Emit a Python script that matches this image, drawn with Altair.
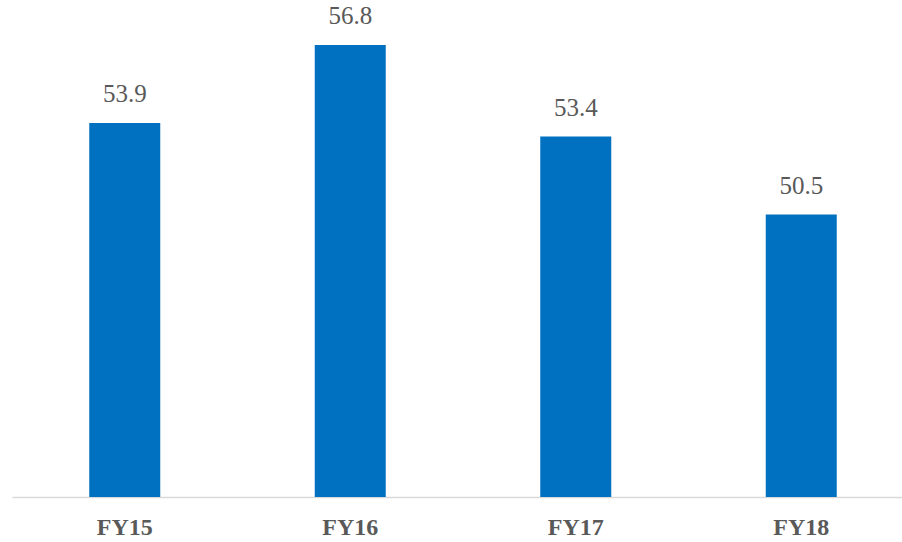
import altair as alt
import pandas as pd

categories = ["FY15", "FY16", "FY17", "FY18"]
values = [53.9, 56.8, 53.4, 50.5]
value_labels = ["53.9", "56.8", "53.4", "50.5"]

df = pd.DataFrame({"cat": categories, "val": values, "lab": value_labels})

FONT = "Liberation Serif"

x = alt.X(
    "cat:N",
    sort=categories,
    title=None,
    scale=alt.Scale(range=[0, 902], paddingInner=0, paddingOuter=0),
    axis=alt.Axis(
        labelAngle=0,
        labelFont=FONT,
        labelFontSize=24,
        labelFontWeight="bold",
        labelColor="#595959",
        labelPadding=18,
        ticks=False,
        domainColor="#D9D9D9",
        domainWidth=1.5,
        grid=False,
    ),
)
y = alt.Y(
    "val:Q",
    title=None,
    scale=alt.Scale(domain=[40, 58.476], zero=False, nice=False),
    axis=None,
)

bars = alt.Chart(df).mark_bar(size=71, color="#0070C0").encode(
    x=x, y=y, y2=alt.datum(40)
)
labels = alt.Chart(df).mark_text(
    font=FONT, fontSize=25, color="#595959", baseline="alphabetic", dy=-21
).encode(x=x, y=y, text="lab:N")

chart = (
    alt.layer(bars, labels)
    .properties(
        width=890,
        height=497,
        autosize=alt.AutoSizeParams(type="none"),
        padding={"left": 12, "top": 0, "right": 0, "bottom": 45},
        background="white",
    )
    .configure_view(stroke=None)
)

chart.save("out.html", embed_options={"renderer": "svg", "actions": False})
